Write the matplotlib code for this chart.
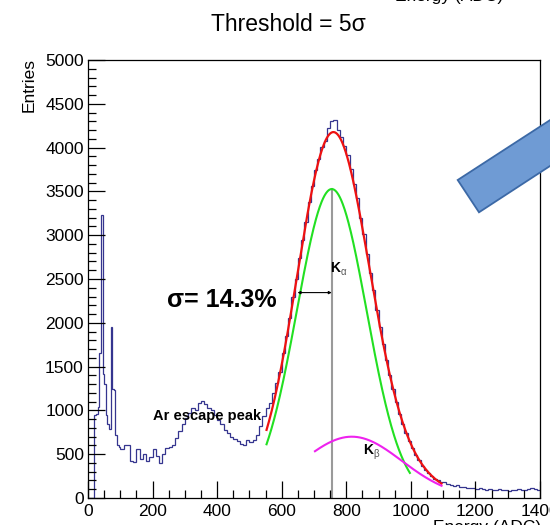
import numpy as np
import matplotlib
matplotlib.use("Agg")
import matplotlib.pyplot as plt
from matplotlib.ticker import MultipleLocator
from matplotlib.patches import Polygon

plt.rcParams['font.family'] = ['Liberation Sans', 'DejaVu Sans']

# histogram: 5 ADC bins below 100, 10 ADC bins above
edges = np.concatenate([np.arange(0, 100, 5), np.arange(100, 1410, 10)])
counts_low = [0, 0, 0, 0, 950, 960, 1040, 1660, 3230, 1420,
              1300, 950, 850, 790, 1950, 1250, 1230, 720, 600, 580]
counts_escape = [560, 600, 600, 420, 410, 560, 440, 500, 420, 470,
                 560, 480, 400, 500, 570, 580, 610, 690, 770, 850,
                 910, 970, 1030, 1000, 1080, 1110, 1070, 1030, 1000, 950,
                 890, 850, 780, 740, 700, 670, 650, 620, 600, 660,
                 640, 660, 720, 820, 940, 1030, 1090, 1200, 1310]
counts_peak = [1440, 1650, 1850, 2060, 2300, 2500, 2740, 2950, 3150, 3380,
               3560, 3740, 3870, 4010, 4080, 4220, 4300, 4310, 4200, 4120,
               4020, 3920, 3760, 3580, 3420, 3200, 3010, 2790, 2570, 2370,
               2150, 1950, 1760, 1580, 1400, 1250, 1100, 960, 850, 740,
               650, 570, 490, 430, 370, 320, 280, 250, 220, 200, 185]
counts_tail = [180, 165, 150, 140, 150, 125, 130, 115, 120, 110,
               105, 110, 100, 95, 105, 95, 90, 100, 90, 95,
               85, 95, 90, 100, 90, 95, 105, 120, 100, 95]
counts = counts_low + counts_escape + counts_peak + counts_tail

# fit parameters (amplitude, mean, sigma) and drawn ranges
ka_par = [3527, 755, 108]
kb_par = [700, 817, 155]
ka_range = [553, 997]
kb_range = [703, 1095]
sum_range = [553, 1095]


def gaus(x, p):
    return p[0] * np.exp(-(x - p[1]) ** 2 / (2 * p[2] ** 2))


fig = plt.figure(figsize=(5.5, 5.25), dpi=100)
ax = fig.add_axes([0.16, 0.0514, 0.8218, 0.8343])

ax.stairs(counts, edges, color='#35358f', lw=0.9, baseline=None)

xs = np.linspace(sum_range[0], sum_range[1], 300)
ax.plot(xs, gaus(xs, ka_par) + gaus(xs, kb_par), color='#ee1111', lw=1.6)
xa = np.linspace(ka_range[0], ka_range[1], 300)
ax.plot(xa, gaus(xa, ka_par), color='#22e022', lw=1.5)
xb = np.linspace(kb_range[0], kb_range[1], 300)
ax.plot(xb, gaus(xb, kb_par), color='#ee22ee', lw=1.5)

# vertical line at the K-alpha mean and the sigma arrow
ax.plot([ka_par[1], ka_par[1]], [0, ka_par[0]], color='#9a9a9a', lw=1.5, zorder=1)
ax.annotate('', xy=(ka_par[1] - ka_par[2] + 2, 2345), xytext=(ka_par[1], 2345),
            arrowprops=dict(arrowstyle='<|-|>', color='black', lw=0.8,
                            mutation_scale=4, shrinkA=0, shrinkB=0))

ax.text(245, 2260, 'σ= 14.3%', fontsize=18, fontweight='bold', va='center')
ax.text(200, 936, 'Ar escape peak', fontsize=10.5, fontweight='bold', va='center')
ax.text(749, 2630, 'K', fontsize=10, fontweight='bold', va='center')
ax.annotate('α', xy=(749, 2630), xytext=(7.5, -3), textcoords='offset points',
            fontsize=7, color='#555555', va='center')
ax.text(852, 548, 'K', fontsize=10, fontweight='bold', va='center')
ax.annotate('β', xy=(852, 548), xytext=(7.5, -3), textcoords='offset points',
            fontsize=7, color='#555555', va='center')

ax.set_xlim(0, 1400)
ax.set_ylim(0, 5000)
ax.xaxis.set_major_locator(MultipleLocator(200))
ax.xaxis.set_minor_locator(MultipleLocator(50))
ax.yaxis.set_major_locator(MultipleLocator(500))
ax.yaxis.set_minor_locator(MultipleLocator(100))
ax.tick_params(which='both', direction='in', top=False, right=False,
               labelsize=12.5, width=0.9)
ax.tick_params(which='major', length=12)
ax.tick_params(which='minor', length=6)
ax.tick_params(axis='x', pad=4)
ax.tick_params(axis='y', pad=3)
for s in ax.spines.values():
    s.set_linewidth(0.9)

fig.text(0.524, 0.954, 'Threshold = 5σ', fontsize=16.5, ha='center', va='center')
fig.text(29 / 550, 1 - 58 / 525, 'Entries', fontsize=12.5, rotation=90,
         ha='center', va='top')
fig.text(541 / 550, 1 - 520 / 525, 'Energy (ADC)', fontsize=12.5, ha='right', va='top')
fig.text(503 / 550, 1 - 4 / 525, 'Energy (ADC)', fontsize=12.5, ha='right', va='bottom')

# blue block arrow pasted over the top right corner
arrow_x = [457.7, 479, 600, 600]
arrow_y = [180, 212.3, 133.4, 87.7]
pts = [(x / 550, 1 - y / 525) for x, y in zip(arrow_x, arrow_y)]
fig.add_artist(Polygon(pts, closed=True, facecolor='#6f9bd4', edgecolor='#3c69a6',
                       lw=1.3, transform=fig.transFigure, zorder=10))

fig.savefig("out.png", dpi=100)
